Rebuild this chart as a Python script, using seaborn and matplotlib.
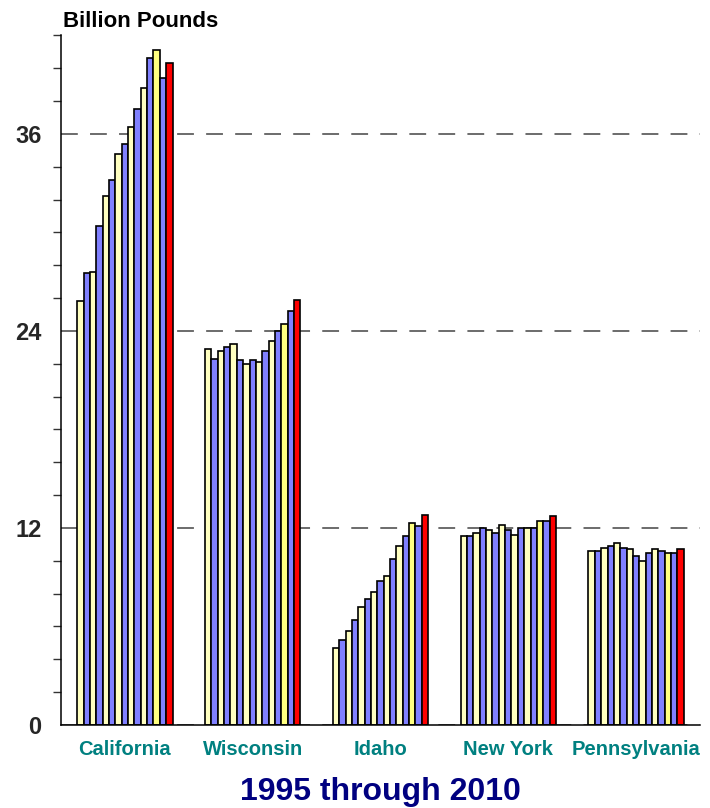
import pandas as pd
import matplotlib.pyplot as plt
from matplotlib.ticker import MultipleLocator
import seaborn as sns

# milk production by state, billion pounds (15 yearly bars per state)
states = ['California', 'Wisconsin', 'Idaho', 'New York', 'Pennsylvania']
years = [str(y) for y in range(1996, 2011)]

california = [25.8, 27.5, 27.6, 30.4, 32.2, 33.2, 34.8, 35.4, 36.4, 37.5, 38.8, 40.6, 41.1, 39.4, 40.3]
wisconsin = [22.9, 22.3, 22.8, 23.0, 23.2, 22.2, 22.0, 22.2, 22.1, 22.8, 23.4, 24.0, 24.4, 25.2, 25.9]
idaho = [4.7, 5.2, 5.7, 6.4, 7.2, 7.7, 8.1, 8.8, 9.1, 10.1, 10.9, 11.5, 12.3, 12.1, 12.8]
new_york = [11.5, 11.5, 11.7, 12.0, 11.9, 11.7, 12.2, 11.9, 11.6, 12.0, 12.0, 12.0, 12.4, 12.4, 12.7]
pennsylvania = [10.6, 10.6, 10.8, 10.9, 11.1, 10.8, 10.7, 10.3, 10.0, 10.5, 10.7, 10.6, 10.5, 10.5, 10.7]

values = [california, wisconsin, idaho, new_york, pennsylvania]

df = pd.DataFrame([(s, y, v) for s, vals in zip(states, values) for y, v in zip(years, vals)],
                  columns=['State', 'Year', 'Pounds'])

pale = '#FFFFC0'
blue = '#8080FF'
colors = [pale if i % 2 == 0 else blue for i in range(len(years))]
colors[12] = '#FFFF80'
colors[-1] = '#FF0000'

sns.set_style('white')
plt.rcParams['font.family'] = ['Liberation Sans', 'DejaVu Sans']

fig = plt.figure(figsize=(7.1, 8.08), dpi=100)
ax = fig.add_axes([61 / 710, 83 / 808, 639 / 710, (725 - 35.4) / 808])

sns.barplot(data=df, x='State', y='Pounds', hue='Year', hue_order=years, order=states,
            palette=colors, saturation=1, width=0.745, edgecolor='black', linewidth=1.2,
            legend=False, ax=ax)

ax.set_xlim(-0.5, 4.5)
ax.set_ylim(0, 42)
ax.set_yticks([0, 12, 24, 36])
ax.yaxis.set_minor_locator(MultipleLocator(2))
ax.set_axisbelow(True)
ax.grid(axis='y', which='major', color='#444444', linestyle=(0, (11, 8)), linewidth=1.1)
ax.grid(axis='x', visible=False)

for s in ['top', 'right']:
    ax.spines[s].set_visible(False)
for s in ['left', 'bottom']:
    ax.spines[s].set_color('black')
    ax.spines[s].set_linewidth(1.1)

ax.tick_params(axis='y', which='major', direction='inout', length=12, width=1, color='#333333',
               labelsize=17, pad=8)
ax.tick_params(axis='y', which='minor', direction='out', length=6, width=1, color='#333333', left=True)
for lab in ax.get_yticklabels():
    lab.set_fontweight('bold')

ax.tick_params(axis='x', length=0, pad=11, labelsize=14.5, labelcolor='#008080')
for lab in ax.get_xticklabels():
    lab.set_fontweight('bold')

ax.set_xlabel('')
ax.set_ylabel('')

fig.text(63 / 710, (808 - 27) / 808, 'Billion Pounds', ha='left', va='baseline',
         fontsize=16, fontweight='bold', color='black')
fig.text(380 / 710, (808 - 800) / 808, '1995 through 2010', ha='center', va='baseline',
         fontsize=23, fontweight='bold', color='#000080')

plt.savefig('out.png', dpi=100)
